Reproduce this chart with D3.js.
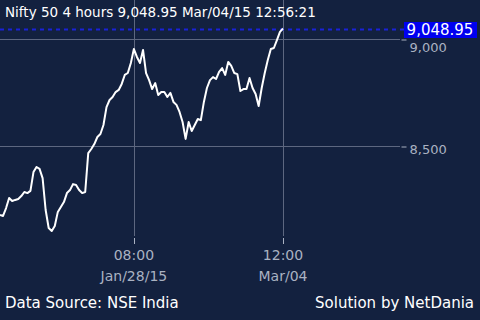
<!DOCTYPE html>
<html>
<head>
<meta charset="utf-8">
<script src="https://cdn.jsdelivr.net/npm/d3@7"></script>
<style>
    body { margin: 0; background: #13213f; }
    svg { display: block; font-family: "DejaVu Sans", sans-serif; }
</style>
</head>
<body>
<div id="chart"></div>
<script>
// Nifty 50, 4 hour closes
let closes = [
    8178, 8173, 8210, 8257, 8243, 8248, 8252, 8266, 8285, 8280,
    8290, 8378, 8402, 8393, 8350, 8201, 8117, 8103, 8126, 8192,
    8215, 8238, 8280, 8294, 8322, 8318, 8294, 8280, 8285, 8467,
    8486, 8509, 8542, 8556, 8598, 8682, 8715, 8729, 8752, 8762,
    8790, 8832, 8841, 8888, 8953, 8916, 8888, 8949, 8841, 8808,
    8766, 8794, 8738, 8752, 8752, 8729, 8748, 8706, 8692, 8659,
    8612, 8533, 8612, 8570, 8598, 8626, 8621, 8706, 8771, 8808,
    8822, 8813, 8846, 8864, 8832, 8893, 8874, 8841, 8836, 8757,
    8766, 8766, 8818, 8771, 8743, 8687, 8771, 8841, 8902, 8953,
    8958, 8995, 9033, 9048.95
];
let y_ticks = [8500, 9000];
let x_tick_bars = [44, 93];
let x_tick_times = ["08:00", "12:00"];
let x_tick_dates = ["Jan/28/15", "Mar/04"];
let title_text = "Nifty 50 4 hours 9,048.95 Mar/04/15 12:56:21";
let last_label = "9,048.95";
let source_text = "Data Source: NSE India";
let credit_text = "Solution by NetDania";

window.onload = function () {
    let width = 480, height = 320;
    let svg = d3.select("#chart").append("svg")
        .attr("width", width)
        .attr("height", height);

    svg.append("rect")
        .attr("width", width).attr("height", height)
        .style("fill", "#13213f");

    let xScale = d3.scaleLinear()
        .domain([0, closes.length - 1])
        .range([0, 283]);

    let yScale = d3.scaleLinear()
        .domain([8500, 9000])
        .range([146, 39]);

    // vertical grid lines + tick marks
    x_tick_bars.forEach(function (b) {
        let x = Math.round(xScale(b)) + 0.5;
        svg.append("line")
            .attr("x1", x).attr("x2", x).attr("y1", 0).attr("y2", 236)
            .style("stroke", "#5d6780").style("stroke-width", 1);
        svg.append("line")
            .attr("x1", x).attr("x2", x).attr("y1", 238).attr("y2", 244)
            .style("stroke", "#aab2c2").style("stroke-width", 1);
    });

    // horizontal grid lines
    y_ticks.forEach(function (v) {
        let y = Math.round(yScale(v)) + 0.5;
        svg.append("line")
            .attr("x1", 0).attr("x2", 400).attr("y1", y).attr("y2", y)
            .style("stroke", "#5d6780").style("stroke-width", 1);
    });

    // y axis on the right
    let yAxis = svg.append("g")
        .attr("transform", "translate(401.5,0.5)")
        .call(d3.axisRight(yScale).tickValues(y_ticks).tickSize(5).tickPadding(3)
            .tickFormat(d3.format(",")));
    yAxis.select(".domain").remove();
    yAxis.selectAll("line").style("stroke", "#aab2c2");
    yAxis.selectAll("text")
        .style("fill", "#aab2c2")
        .style("font-size", "13px")
        .style("font-family", "DejaVu Sans, sans-serif")
        .attr("dy", function (d) { return d == 9000 ? "0.95em" : "0.5em"; });

    // x tick labels
    x_tick_bars.forEach(function (b, i) {
        let x = xScale(b);
        svg.append("text")
            .attr("x", x).attr("y", 260)
            .attr("text-anchor", "middle")
            .style("fill", "#aab2c2").style("font-size", "14px")
            .text(x_tick_times[i]);
        svg.append("text")
            .attr("x", x).attr("y", 281)
            .attr("text-anchor", "middle")
            .style("fill", "#aab2c2").style("font-size", "14px")
            .text(x_tick_dates[i]);
    });

    // last value dashed line
    let lastY = yScale(closes[closes.length - 1]);
    svg.append("line")
        .attr("x1", 0).attr("x2", 404)
        .attr("y1", Math.round(lastY) + 0.5).attr("y2", Math.round(lastY) + 0.5)
        .style("stroke", "#1a22d8").style("stroke-width", 2)
        .style("stroke-dasharray", "4,4");

    // price line
    let line = d3.line()
        .x(function (d, i) { return xScale(i); })
        .y(function (d) { return yScale(d); });

    svg.append("path")
        .datum(closes)
        .attr("d", line)
        .style("fill", "none")
        .style("stroke", "#ffffff")
        .style("stroke-width", 2)
        .style("stroke-linejoin", "round");

    // last value box
    svg.append("rect")
        .attr("x", 404).attr("y", Math.round(lastY) - 7)
        .attr("width", 73).attr("height", 16)
        .style("fill", "#0000f0");
    svg.append("text")
        .attr("x", 440).attr("y", Math.round(lastY) + 6)
        .attr("text-anchor", "middle")
        .style("fill", "#ffffff").style("font-size", "15px")
        .text(last_label);

    // title
    svg.append("text")
        .attr("x", 5).attr("y", 17)
        .style("fill", "#ffffff").style("font-size", "13.5px")
        .text(title_text);

    // footer
    svg.append("text")
        .attr("x", 5).attr("y", 308)
        .style("fill", "#ffffff").style("font-size", "15px")
        .text(source_text);
    svg.append("text")
        .attr("x", 474).attr("y", 308)
        .attr("text-anchor", "end")
        .style("fill", "#ffffff").style("font-size", "15px")
        .text(credit_text);
};
</script>
</body>
</html>
